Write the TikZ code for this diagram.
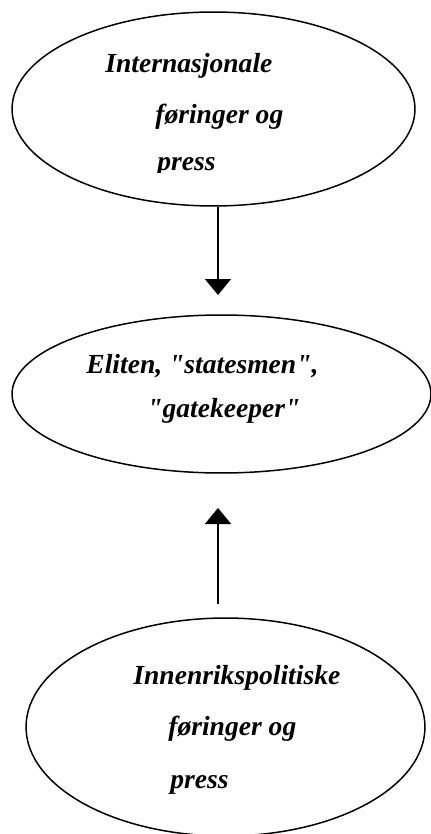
\documentclass[tikz,border=0pt]{standalone}
\usepackage{fontspec}
\setmainfont{Liberation Serif}
\usetikzlibrary{shapes.geometric,arrows.meta}

\tikzset{
  bubble/.style={draw, ellipse, inner sep=0pt, line width=0.85pt},
  txt/.style={anchor=base west, inner sep=0pt, font=\fontsize{15.7pt}{18pt}\selectfont\bfseries\itshape},
  arr/.style={-{Triangle[width=0.52cm,length=0.32cm]}, line width=0.95pt}
}

\begin{document}
\begin{tikzpicture}[x=0.02cm, y=-0.02cm]
   \useasboundingbox (0,0) rectangle (431,834);

   % Ellipses
   \node[bubble, minimum width=8.06cm, minimum height=3.88cm] (intl) at (213.5,109) {};
   \node[bubble, minimum width=8.38cm, minimum height=3.16cm] (elite) at (221.5,394) {};
   \node[bubble, minimum width=7.98cm, minimum height=4.36cm] (dom) at (225.5,727) {};

   % Top text (last line is cut off)
   \begin{scope}
      \clip (0,0) rectangle (431,172.5);
      \node[txt] (intl1) at (105,73) {Internasjonale};
      \node[txt] (intl2) at (155,124) {føringer og};
      \node[txt] (intl3) at (157,171) {press};
   \end{scope}

   % Middle text
   \node[txt] (elite1) at (86,373) {Eliten, \textquotedbl statesmen\textquotedbl,};
   \node[txt] (elite2) at (147,417) {\textquotedbl gatekeeper\textquotedbl};

   % Bottom text
   \node[txt] (dom1) at (133,684) {Innenrikspolitiske};
   \node[txt] (dom2) at (168,735) {føringer og};
   \node[txt] (dom3) at (170,788) {press};

   % Arrows
   \coordinate (tip1) at (218,295);
   \draw[arr] (intl.south -| tip1) -- (tip1);
   \coordinate (foot2) at (218,604);
   \coordinate (tip2) at (218,508);
   \draw[arr] (foot2) -- (tip2);
\end{tikzpicture}
\end{document}
